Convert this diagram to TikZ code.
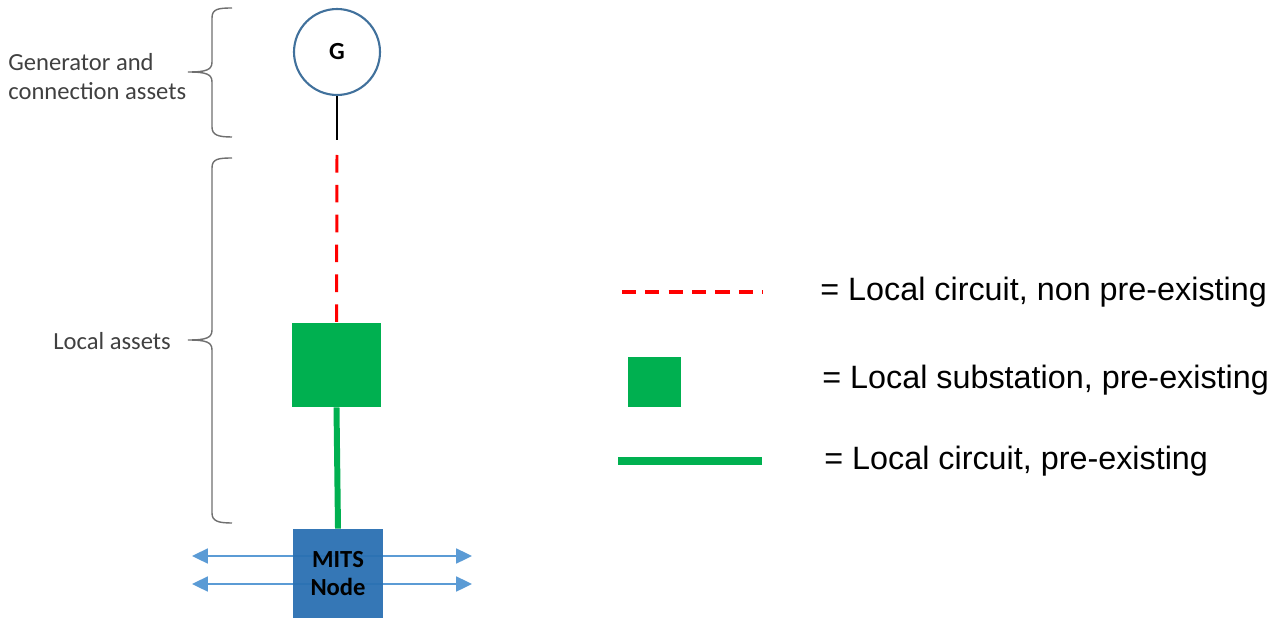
\documentclass[tikz,border=0pt]{standalone}
\usepackage{fontspec}
\setmainfont{Liberation Sans}
\newfontfamily\calibri{Carlito}
\usetikzlibrary{arrows.meta}

\definecolor{genblue}{HTML}{41719C}
\definecolor{subgreen}{HTML}{00B050}
\definecolor{mitsblue}{HTML}{2A70B2}
\definecolor{flowblue}{HTML}{5B9BD5}
\definecolor{bracegray}{HTML}{6F6F6F}
\definecolor{labelgray}{HTML}{404040}

\tikzstyle{gen}=[circle, draw=genblue, line width=1.2pt, fill=white, minimum size=1.72cm, inner sep=0pt, font=\calibri\bfseries\fontsize{14}{16}\selectfont]
\tikzstyle{subst}=[rectangle, fill=subgreen, minimum width=1.78cm, minimum height=1.68cm, inner sep=0pt]
\tikzstyle{mitsbox}=[rectangle, fill=mitsblue, fill opacity=0.95, text opacity=1, minimum width=1.8cm, minimum height=1.78cm, inner sep=0pt, align=center, font=\calibri\bfseries\fontsize{14}{16}\selectfont]
\tikzstyle{newckt}=[red, line width=1.7pt, dash pattern=on 10pt off 7pt]
\tikzstyle{oldckt}=[subgreen, line width=3.4pt]
\tikzstyle{flow}=[flowblue, line width=1.1pt, {Triangle[length=9pt,width=8.5pt]}-{Triangle[length=9pt,width=8.5pt]}]
\tikzstyle{grp}=[bracegray, line width=0.8pt]
\tikzstyle{grplabel}=[anchor=west, align=left, text=labelgray, inner sep=0pt, font=\calibri\fontsize{14}{16.5}\selectfont]
\tikzstyle{keytext}=[anchor=west, inner sep=0pt, font=\fontsize{18.4}{20}\selectfont]

\begin{document}
\begin{tikzpicture}[x=0.02cm, y=-0.02cm]
\useasboundingbox (0,0) rectangle (1280,618);

% single line diagram
\draw[flow] (192,556) coordinate (w1) -- (472,556) coordinate (e1);
\draw[flow] (192,584) coordinate (w2) -- (472,584) coordinate (e2);
\node[mitsbox] (mits) at (338,573.5) {MITS\\Node};
\node[gen] (g) at (337,52) {G};
\node[subst] (sub) at (336.5,365) {};
\coordinate (gtap) at (337,140);
\coordinate (ltop) at (337,155);
\draw[line width=1.1pt] (g) -- (gtap);
\draw[newckt] (ltop) -- (sub.north);
\draw[oldckt] (sub.south) -- (mits.north);

% braces
\draw[grp] (232,8) .. controls (218,8) and (212,9) .. (212,18) -- (212,62)
  .. controls (212,70) and (206,72) .. (188,72)
  .. controls (206,72) and (212,74) .. (212,82) -- (212,127)
  .. controls (212,135) and (218,137) .. (232,137);
\draw[grp] (232,158) .. controls (218,158) and (212,159) .. (212,168) -- (212,330)
  .. controls (212,338) and (206,340) .. (188,340)
  .. controls (206,340) and (212,342) .. (212,350) -- (212,513)
  .. controls (212,521) and (218,523) .. (232,523);
\node[grplabel] (glab) at (8,77) {Generator and\\connection assets};
\node[grplabel] (llab) at (53,341) {Local assets};

% key
\coordinate (k1a) at (622,292);
\coordinate (k1b) at (763,292);
\draw[red, line width=2.8pt, dash pattern=on 8pt off 5.3pt] (k1a) -- (k1b);
\node[subst, minimum width=1.06cm, minimum height=1cm] (k2) at (654.5,382) {};
\coordinate (k3a) at (618,461);
\coordinate (k3b) at (762,461);
\draw[subgreen, line width=4pt] (k3a) -- (k3b);
\node[keytext] (t1) at (820,292) {= Local circuit, non pre-existing};
\node[keytext] (t2) at (822,380) {= Local substation, pre-existing};
\node[keytext] (t3) at (824,461) {= Local circuit, pre-existing};
\end{tikzpicture}
\end{document}
